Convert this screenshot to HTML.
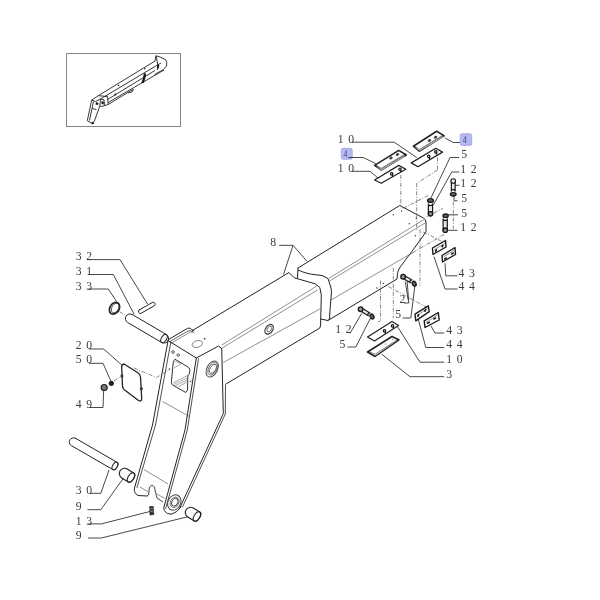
<!DOCTYPE html>
<html><head><meta charset="utf-8"><style>
html,body{margin:0;padding:0;background:#fff;width:600px;height:600px;overflow:hidden}
svg{display:block;will-change:transform}
.t text{font-family:"Liberation Serif",serif;font-size:11.7px;fill:#3c3c3c}
.k{fill:none;stroke:#222;stroke-width:1;stroke-linejoin:round;stroke-linecap:round}
.ld{fill:none;stroke:#333;stroke-width:0.9}
.th{fill:none;stroke:#444;stroke-width:0.6}
.ds{fill:none;stroke:#555;stroke-width:0.7;stroke-dasharray:4 1.5 1 1.5}
</style></head><body>
<svg width="600" height="600" viewBox="0 0 600 600">
<rect x="66.5" y="53.5" width="114" height="73" fill="none" stroke="#868686" stroke-width="1"/>
<g class="t"><text x="78.60" y="259.6" text-anchor="middle">3</text><text x="89.10" y="259.6" text-anchor="middle">2</text><text x="78.60" y="275" text-anchor="middle">3</text><text x="89.10" y="275" text-anchor="middle">1</text><text x="78.60" y="289.7" text-anchor="middle">3</text><text x="89.10" y="289.7" text-anchor="middle">3</text><text x="78.60" y="348.7" text-anchor="middle">2</text><text x="89.10" y="348.7" text-anchor="middle">0</text><text x="78.60" y="363.3" text-anchor="middle">5</text><text x="89.10" y="363.3" text-anchor="middle">0</text><text x="78.60" y="407.8" text-anchor="middle">4</text><text x="89.10" y="407.8" text-anchor="middle">9</text><text x="78.60" y="494" text-anchor="middle">3</text><text x="89.10" y="494" text-anchor="middle">0</text><text x="78.60" y="510" text-anchor="middle">9</text><text x="78.60" y="524.7" text-anchor="middle">1</text><text x="89.10" y="524.7" text-anchor="middle">3</text><text x="78.60" y="538.8" text-anchor="middle">9</text><text x="273.20" y="245.8" text-anchor="middle">8</text><text x="340.70" y="142.5" text-anchor="middle">1</text><text x="351.20" y="142.5" text-anchor="middle">0</text><text x="340.70" y="171.7" text-anchor="middle">1</text><text x="351.20" y="171.7" text-anchor="middle">0</text><text x="464.10" y="157.5" text-anchor="middle">5</text><text x="463.20" y="172.5" text-anchor="middle">1</text><text x="473.70" y="172.5" text-anchor="middle">2</text><text x="463.20" y="186.7" text-anchor="middle">1</text><text x="473.70" y="186.7" text-anchor="middle">2</text><text x="464.10" y="201.7" text-anchor="middle">5</text><text x="464.10" y="216.7" text-anchor="middle">5</text><text x="463.20" y="230.8" text-anchor="middle">1</text><text x="473.70" y="230.8" text-anchor="middle">2</text><text x="461.40" y="276.7" text-anchor="middle">4</text><text x="471.90" y="276.7" text-anchor="middle">3</text><text x="461.40" y="290" text-anchor="middle">4</text><text x="471.90" y="290" text-anchor="middle">4</text><text x="338.20" y="333.3" text-anchor="middle">1</text><text x="348.70" y="333.3" text-anchor="middle">2</text><text x="342.40" y="347.5" text-anchor="middle">5</text><text x="402.40" y="303.3" text-anchor="middle">2</text><text x="398.20" y="318.3" text-anchor="middle">5</text><text x="449.10" y="334.2" text-anchor="middle">4</text><text x="459.60" y="334.2" text-anchor="middle">3</text><text x="449.10" y="348.3" text-anchor="middle">4</text><text x="459.60" y="348.3" text-anchor="middle">4</text><text x="449.10" y="363.3" text-anchor="middle">1</text><text x="459.60" y="363.3" text-anchor="middle">0</text><text x="449.10" y="377.5" text-anchor="middle">3</text></g>
<!-- leaders left -->
<g fill="none" stroke="#333" stroke-width="0.9">
<polyline points="87,259.6 120,259.6 147.5,304"/>
<polyline points="88.3,274.5 113.3,274.5 134,314"/>
<polyline points="88,289 108.3,289 116.7,301.7"/>
<polyline points="89,349 103.7,349 121.7,365"/>
<polyline points="89,363.3 103,363.3 110.8,380.8"/>
<polyline points="89,407.5 103,407.5 103.7,390"/>
<polyline points="90,493.3 100.8,493.3 109,470"/>
<polyline points="87.5,509.7 100.8,509.7 123.3,478.3"/>
<polyline points="88,523.9 101.3,523.9 150.7,511.3"/>
<polyline points="88,538 101.3,538 188,516.7"/>
</g>
<!-- pin 32 -->
<g fill="none" stroke="#222" stroke-linejoin="round" stroke-linecap="round" stroke-width="1">
<path d="M139.3,309.9 L152.3,302.5 A1.9,1.9 0 0 1 154.2,305.8 L141.2,313.2 A1.9,1.9 0 0 1 139.3,309.9 Z"/>
</g>
<!-- ring 33 -->
<g fill="none" stroke="#222" stroke-linejoin="round" stroke-linecap="round" stroke-width="1">
<ellipse cx="114.5" cy="308.3" rx="4.6" ry="6.3" transform="rotate(32 114.5 308.3)" stroke-width="1.7"/>
<ellipse cx="115.3" cy="308" rx="3.4" ry="5.2" transform="rotate(32 115.3 308)" stroke-width="0.7"/>
</g>
<!-- pin 31 -->
<g fill="none" stroke="#222" stroke-linejoin="round" stroke-linecap="round" stroke-width="1">
<path d="M132.3,314.5 L166.3,334.5 A4.6,4.6 0 0 1 161.7,342.5 L127.7,322.5 A4.6,4.6 0 0 1 132.3,314.5 Z"/>
<ellipse cx="164" cy="338.5" rx="2.6" ry="4.6" transform="rotate(30 164 338.5)"/>
</g>
<!-- pin 30 -->
<g fill="none" stroke="#222" stroke-linejoin="round" stroke-linecap="round" stroke-width="1"><path d="M75.60,438.36 L117.10,462.36 A2.31,4.20 30.0 0 1 112.90,469.64 L71.40,445.64 A4.20,4.20 0 0 1 75.60,438.36 Z"/><ellipse cx="115.00" cy="466.00" rx="2.31" ry="4.20" transform="rotate(30.0 115.00 466.00)"/></g>
<!-- bushing 9 left -->
<g  stroke-width="1.1" fill="none" stroke="#222" stroke-linejoin="round" stroke-linecap="round"><path d="M127.23,469.07 L133.73,473.07 A2.86,5.20 31.6 0 1 128.27,481.93 L121.77,477.93 A5.20,5.20 0 0 1 127.23,469.07 Z"/><ellipse cx="131.00" cy="477.50" rx="2.86" ry="5.20" transform="rotate(31.6 131.00 477.50)"/></g>
<!-- bushing 9 right -->
<g  stroke-width="1.1" fill="none" stroke="#222" stroke-linejoin="round" stroke-linecap="round"><path d="M193.23,508.07 L199.73,512.07 A2.86,5.20 31.6 0 1 194.27,520.93 L187.77,516.93 A5.20,5.20 0 0 1 193.23,508.07 Z"/><ellipse cx="197.00" cy="516.50" rx="2.86" ry="5.20" transform="rotate(31.6 197.00 516.50)"/></g>
<!-- grease nipple 13 -->
<g fill="#333" stroke="#111" stroke-width="0.6">
<path d="M149.7,506.5 L153.3,506.5 L153.8,514.5 L150,515 Z"/>
</g>
<g stroke="#ddd" stroke-width="0.5"><line x1="150" y1="509" x2="153.5" y2="508.5"/><line x1="150.2" y1="511.5" x2="153.6" y2="511"/></g>
<!-- nut 50, washer 49 -->
<circle cx="111.3" cy="383.3" r="2.6" fill="#222"/>
<circle cx="104.2" cy="387.5" r="3" fill="#777" stroke="#222" stroke-width="1.2"/>
<!-- cover plate 20 -->
<g  stroke-width="1.3" fill="none" stroke="#222" stroke-linejoin="round" stroke-linecap="round">
<path d="M124,364 Q121.5,364.5 121.7,367 L122.5,386 Q122.8,389.5 126,391 L138.5,400.5 Q141.7,402 141.7,398.5 L140.5,377 Q140.2,374 137.5,372.5 Z"/>
<ellipse cx="121.8" cy="376" rx="1" ry="1.6" stroke-width="0.8"/>
<ellipse cx="141.3" cy="388.7" rx="1" ry="1.6" stroke-width="0.8"/>
</g>
<g fill="none" stroke="#555" stroke-dasharray="4 1.5 1 1.5" stroke-width="0.7"><polyline points="114,381 121,376.5"/><line x1="119.5" y1="311.8" x2="125.5" y2="315"/></g>
<!-- OUTER BOOM -->
<g fill="none" stroke="#222" stroke-linejoin="round" stroke-linecap="round" stroke-width="1">
<!-- top edge -->
<polyline points="192.5,330.5 289,272.5 294.2,277.8 315.2,283.8 319.8,287.5 321.3,295 320.6,325 319.8,328 226,384"/>
</g>
<g fill="none" stroke="#444" stroke-width="0.6">
<line x1="221.7" y1="345" x2="316.8" y2="286"/>
<line x1="221.7" y1="348.3" x2="317.5" y2="290"/>
<line x1="223.3" y1="362.5" x2="320.5" y2="308.6"/>
<ellipse cx="269.1" cy="329.3" rx="3.5" ry="5.3" transform="rotate(35 269.1 329.3)" stroke-width="1.3"/>
<ellipse cx="269.4" cy="329" rx="1.9" ry="3.2" transform="rotate(35 269.4 329)" stroke-width="0.7"/>
</g>
<!-- ARM -->
<g fill="none" stroke="#222" stroke-linejoin="round" stroke-linecap="round" stroke-width="1">
<!-- top lug -->
<path d="M167.9,339.9 L187.5,328.3 Q190,327.5 191.7,329.5 L193.8,330.8"/>
<polyline points="169.5,341.8 189,330.5 192.5,331.5" stroke-width="0.7"/>
<polyline points="171.5,343 190.5,332 194,332.5" stroke-width="0.5"/>
<!-- front plate outer left edge -->
<path d="M168,341 L152.5,425 L134.5,488 Q133.5,493 138,495.5 L147,496"/>
<polyline points="170.8,342.3 155.5,425 137,487.5" stroke-width="0.8"/>
<!-- front plate top edge -->
<polyline points="168.3,340.7 196.3,358 218.5,346 221.7,348.5"/>
<!-- front plate right edge -->
<path d="M196.3,358 L185,430 L163.7,508 Q164.5,513.5 170,514 L172,514 Q177,512.5 181,507"/>
<polyline points="198.5,358.8 187.3,430 165.7,508.5" stroke-width="0.8"/>
<!-- side plate right edge -->
<polyline points="221.7,348.5 223.3,413.5 180,507.5"/>
<polyline points="225.5,385 225.3,414 182.5,507" stroke-width="0.8"/>
</g>
<g fill="none" stroke="#444" stroke-width="0.6">
<line x1="162.5" y1="401.5" x2="189.5" y2="416.5"/>
<line x1="144" y1="469.5" x2="168" y2="484"/>
<!-- window -->
<path d="M175,359.2 L188.75,367.5 L190,370 L189.2,374.2 L187.9,375.8 L187.5,390 L185.8,392.5 L172.5,385 L171.25,382.9 L173.3,361.7 Z" stroke-width="1" stroke="#333"/>
<path d="M174.8,361.5 L181.7,363.3 L174.2,368 M172.8,383 L188,375.3 M173.8,384.5 L188,377.5 M175,386 L188,379.5 M178.5,387 L187.7,381.5" stroke-width="0.5" stroke="#555"/>
<ellipse cx="197.3" cy="344" rx="5.3" ry="3.3" transform="rotate(-15 197.3 344)"/>
<circle cx="173" cy="352" r="1.3" stroke-width="0.9"/>
<circle cx="178.25" cy="355" r="1.3" stroke-width="0.9"/>
<circle cx="204.7" cy="338.7" r="0.6" fill="#333"/>
<circle cx="190.5" cy="381.5" r="0.5" fill="#333"/>
<circle cx="169.5" cy="369" r="0.5" fill="#333"/>
<!-- boss -->
<ellipse cx="212.2" cy="369" rx="5.3" ry="8.6" transform="rotate(28 212.2 369)" stroke-width="1"/>
<ellipse cx="212.6" cy="368.8" rx="4" ry="6.8" transform="rotate(28 212.6 368.8)" stroke-width="0.7"/>
<ellipse cx="212.9" cy="368.8" rx="2.8" ry="5" transform="rotate(28 212.9 368.8)" stroke-width="0.8"/>
<!-- pivot -->
<ellipse cx="174.3" cy="502.5" rx="6.3" ry="8" transform="rotate(28 174.3 502.5)" stroke-width="1"/>
<ellipse cx="174.6" cy="502.3" rx="4.2" ry="5.4" transform="rotate(28 174.6 502.3)" stroke-width="0.7"/><ellipse cx="174.8" cy="502.2" rx="2.9" ry="3.9" transform="rotate(28 174.8 502.2)" stroke-width="0.9"/>
<!-- slot at bottom -->
<path d="M147,496 L148.5,495 L149.5,487 Q151,485 153,485.5 Q155,486.5 155,490 L157,498 L163,502" stroke-width="1"/>
<path d="M140,487 L148.5,492 M157,494 L165,498.5" stroke-width="0.6"/>
</g>
<g fill="none" stroke="#555" stroke-dasharray="4 1.5 1 1.5" stroke-width="0.7"><polyline points="134,368 156.5,377.5 170,369.3"/></g>
<!-- highlight boxes -->
<rect x="341.3" y="148.3" width="10.9" height="11" rx="1.6" fill="#b6b9ef" stroke="#9da2e4" stroke-width="0.8"/>
<rect x="460.2" y="133.8" width="11.5" height="11.6" rx="1.6" fill="#b6b9ef" stroke="#9da2e4" stroke-width="0.8"/>
<g style="font-family:'Liberation Serif',serif;font-size:10.5px;fill:#3a4272">
<text x="345.4" y="157.3" text-anchor="middle" textLength="3.8" lengthAdjust="spacingAndGlyphs">4</text>
<text x="464.6" y="142.8" text-anchor="middle" textLength="3.8" lengthAdjust="spacingAndGlyphs">4</text>
</g>
<!-- INNER BOOM -->
<g fill="none" stroke="#222" stroke-linejoin="round" stroke-linecap="round" stroke-width="1">
<!-- leader 8 -->
</g>
<g fill="none" stroke="#333" stroke-width="0.9">
<polyline points="279.2,245.3 293,245.3 283.5,274.5"/>
<polyline points="293,245.3 307,261.3"/>
</g>
<g fill="none" stroke="#222" stroke-linejoin="round" stroke-linecap="round" stroke-width="1">
<!-- top edge -->
<path d="M298,268 L399.75,205.5 L423.5,218 Q426,219.5 426,222 L426,231.5 L424,234.8 L411.7,251.7 L400.5,266.5 Q398,270 397.5,273.5 L397,279 L328,320.5"/>
<!-- collar left edge -->
<polyline points="298,268 297.5,278"/>
<!-- collar front face -->
<path d="M298.5,270.3 C304,272.5 310,274.5 316,274.8 L322,275.5 L328,278.5 L331,288 L331.5,292 L330,310 L329.5,319 L328,320.5 L320.5,319"/>
</g>
<g fill="none" stroke="#444" stroke-width="0.6">
<line x1="329" y1="278.3" x2="424" y2="219.5"/>
<line x1="329.5" y1="281" x2="425.4" y2="222.8"/>
<line x1="331" y1="300" x2="413" y2="252.5"/>
</g>
<g fill="none" stroke="#555" stroke-dasharray="4 1.5 1 1.5" stroke-width="0.7">
<line x1="413" y1="252.5" x2="445" y2="234"/>
</g>
<g fill="#333">
<circle cx="393.3" cy="214.7" r="0.7"/><circle cx="401.6" cy="211" r="0.7"/><circle cx="409.3" cy="223.8" r="0.7"/>
<circle cx="416.3" cy="218.3" r="0.7"/><circle cx="415.3" cy="235.8" r="0.7"/><circle cx="383.3" cy="283.4" r="0.7"/>
<circle cx="376.8" cy="288" r="0.7"/><circle cx="380.5" cy="297" r="0.6"/>
</g>
<!-- dashed construction lines -->
<g fill="none" stroke="#555" stroke-dasharray="4 1.5 1 1.5" stroke-width="0.7">
<line x1="400.8" y1="175" x2="400.8" y2="205"/>
<line x1="416.7" y1="183.3" x2="416.7" y2="230"/>
<line x1="437.5" y1="157.5" x2="437.5" y2="170"/>
<line x1="437.5" y1="170" x2="416.7" y2="183.3"/>
<line x1="420" y1="229.3" x2="420" y2="286"/>
<line x1="393.3" y1="267.8" x2="393.3" y2="318"/>
<line x1="380.5" y1="280.7" x2="380.5" y2="321"/>
<line x1="453.3" y1="201.7" x2="453.3" y2="229"/>
<line x1="403.3" y1="208.3" x2="428" y2="195.5"/>
<line x1="426.7" y1="216.7" x2="443" y2="208.5"/>
<line x1="423.3" y1="232" x2="443" y2="242"/>
<line x1="388.3" y1="286.5" x2="428" y2="308"/>
<line x1="380.5" y1="321" x2="378" y2="322"/>
</g>
<!-- TOP PLATES -->
<g fill="none" stroke="#333" stroke-width="0.9">
<polyline points="351.7,142.2 394.2,142.2 416.7,157.5"/>
<polyline points="348.3,157.5 363.3,157.5 375.8,163.7"/>
<polyline points="351.7,171.3 370,171.3 378.3,178.3"/>
<polyline points="460,142.5 453.3,142.5 445,138"/>
<polyline points="459.2,157.5 450,157.5 430,200"/>
<polyline points="459.2,172 451.7,172 433.3,205"/>
<polyline points="454,195.8 454,200.8 457.5,200.8"/>
<polyline points="455,185.3 459.5,185.3"/>
<polyline points="458,214.8 446.7,214.8"/>
<polyline points="457.5,230.3 447.5,230.3"/>
<polyline points="457.5,275.8 445.8,275.8 445,263.3"/>
<polyline points="457.5,289 445,289 434,256.7"/>
<polyline points="350,333.3 361.7,313.3"/>
<polyline points="347.5,347 355.8,347 370.8,317.5"/>
<polyline points="404,303 408.8,303 407.2,281.5"/>
<polyline points="408.3,300.5 405.2,281.5"/>
<polyline points="402.5,318 410.8,318 415,285"/>
<polyline points="444.2,333 435,333 430.8,325.8"/>
<polyline points="444.2,347.5 425.8,347.5 418.3,319.2"/>
<polyline points="444.2,362.2 420,362.2 397.5,326.7"/>
<polyline points="444.2,376.7 410,376.7 381.7,354.2"/>
</g>
<!-- THUMBNAIL -->
<g fill="none" stroke="#222" stroke-width="0.9" stroke-linejoin="round">
<polyline points="98.3,95.7 155,61 156,55.8 160,57 165.5,59.5 166.8,62.5 166.5,66 163.5,69.5 154.5,74.5"/>
<polyline points="100.5,99 156.5,65.5 161,63"/>
<polyline points="107.5,99.5 155,70.5"/>
<polyline points="108.2,102.5 164,70"/>
<polyline points="108.2,104.5 118,98.5"/>
<polyline points="118,98.5 127,93 133.3,89.3 132.3,91.8 128,93"/>
<polyline points="156,55.8 157.5,63 157.5,70"/>
<!-- head block -->
<polyline points="98.3,95.7 107.5,96.5 108.2,104.5 102,106.4 99.8,106"/>
<polyline points="100.5,99 104,99.8 104.5,105.5"/>
<!-- arm -->
<polyline points="98.3,95.7 91.7,100.1 87.3,120.7 92,123.6 94.3,121.4 99.8,106 100.5,99"/>
<polyline points="93.5,101.5 89.5,120.5"/>
<polyline points="91.7,100.1 95.5,101.5 100.5,99"/>
<line x1="92" y1="108.5" x2="96.5" y2="109.5"/>
</g>
<g fill="#1a1a1a">
<path d="M143.8,73.2 L146.2,73.6 L145.3,78.5 L143.8,83 L141.2,83.3 L143,78 Z"/>
<circle cx="118.6" cy="85.5" r="0.8"/><circle cx="115.3" cy="94.5" r="1"/><circle cx="144.8" cy="68.8" r="0.8"/>
<path d="M157.5,64.5 L159.3,65 L158.8,68.5 L157,68 Z"/>
<circle cx="92.8" cy="123" r="1.2"/>
<path d="M101.5,101 L104,102 L103.5,104.5 L101.5,104 Z"/>
<path d="M96,102 L98.5,103 L98,105 L95.5,104.5 Z"/>
</g>
<g>
<path d="M432.60,213.80 L432.60,203.50 A2.10,2.10 0 0 1 428.40,203.50 L428.40,213.80" fill="#e8e8e8" stroke="#1a1a1a" stroke-width="1.2"/>
<circle cx="430.50" cy="213.80" r="2.2" fill="#999" stroke="#1a1a1a" stroke-width="1.4"/>
<ellipse cx="430.5" cy="200.5" rx="2.9" ry="1.9" transform="rotate(0 430.5 200.5)" fill="#666" stroke="#1a1a1a" stroke-width="1.4"/>
<path d="M451.35,181.00 L451.35,191.50 A1.90,1.90 0 0 1 455.15,191.50 L455.15,181.00" fill="#e8e8e8" stroke="#1a1a1a" stroke-width="1.2"/>
<circle cx="453.25" cy="181.00" r="2.3" fill="#eee" stroke="#1a1a1a" stroke-width="1.1"/>
<ellipse cx="453.25" cy="194.3" rx="2.8" ry="1.7" transform="rotate(0 453.25 194.3)" fill="#666" stroke="#1a1a1a" stroke-width="1.4"/>
<path d="M447.30,230.20 L447.30,218.50 A2.10,2.10 0 0 1 443.10,218.50 L443.10,230.20" fill="#e8e8e8" stroke="#1a1a1a" stroke-width="1.2"/>
<circle cx="445.20" cy="230.20" r="2.2" fill="#999" stroke="#1a1a1a" stroke-width="1.4"/>
<ellipse cx="445.6" cy="215.8" rx="2.6" ry="1.8" transform="rotate(0 445.6 215.8)" fill="#666" stroke="#1a1a1a" stroke-width="1.4"/>
<path d="M402.29,278.08 L410.69,282.98 A1.60,1.60 0 0 1 412.31,280.22 L403.91,275.32" fill="#e8e8e8" stroke="#1a1a1a" stroke-width="1.2"/>
<circle cx="403.10" cy="276.70" r="2.3" fill="#999" stroke="#1a1a1a" stroke-width="1.4"/>
<ellipse cx="414.2" cy="283.7" rx="1.8" ry="2.5" transform="rotate(-25 414.2 283.7)" fill="#666" stroke="#1a1a1a" stroke-width="1.4"/>
<path d="M359.77,310.57 L368.67,315.97 A1.60,1.60 0 0 1 370.33,313.23 L361.43,307.83" fill="#e8e8e8" stroke="#1a1a1a" stroke-width="1.2"/>
<circle cx="360.60" cy="309.20" r="2.3" fill="#999" stroke="#1a1a1a" stroke-width="1.4"/>
<ellipse cx="372" cy="316.5" rx="1.8" ry="2.5" transform="rotate(-25 372 316.5)" fill="#666" stroke="#1a1a1a" stroke-width="1.4"/>
</g>
<g  stroke-width="1.3" fill="none" stroke="#222" stroke-linejoin="round" stroke-linecap="round">
<polygon points="374.60,165.40 398.75,150.40 406.25,155.00 381.25,170.00"  stroke-width="1.5" fill="none" stroke="#222" stroke-linejoin="round" stroke-linecap="round" />
<polygon points="376,166.6 381.5,169.2 405,155.2 404.2,156.8 381.8,170.3" fill="#c4c4c4" stroke="none"/>
<polyline points="376,165.2 381.4,168.3 405.5,153.8" stroke-width="0.6"/>
<polygon points="374.60,180.00 398.75,165.40 405.80,169.20 381.25,183.30"  stroke-width="1.25" fill="none" stroke="#222" stroke-linejoin="round" stroke-linecap="round" />
<polygon points="413.30,146.25 436.70,131.25 444.20,135.80 419.20,151.25"  stroke-width="1.5" fill="none" stroke="#222" stroke-linejoin="round" stroke-linecap="round" />
<polygon points="414.5,147.3 419.3,150 443.5,136 442.8,137.4 419.5,151 " fill="#c4c4c4" stroke="none"/>
<polyline points="414.8,146 419.3,149.6 443.5,134.8" stroke-width="0.6"/>
<polygon points="411.25,162.90 435.80,148.30 442.50,152.10 417.90,166.70"  stroke-width="1.25" fill="none" stroke="#222" stroke-linejoin="round" stroke-linecap="round" />
<polygon points="367.50,337.00 392.00,321.50 398.50,325.50 374.50,341.00"  stroke-width="1.25" fill="none" stroke="#222" stroke-linejoin="round" stroke-linecap="round" />
<polygon points="367.50,352.00 392.00,336.50 399.00,340.00 375.00,356.50"  stroke-width="1.5" fill="none" stroke="#222" stroke-linejoin="round" stroke-linecap="round" />
<polyline points="369,351.6 375,354.3 398.3,339.2" stroke-width="0.6"/>
</g>
<g fill="#555" stroke="#222" stroke-width="0.8">
<ellipse cx="391" cy="158" rx="1.4" ry="0.9" transform="rotate(-30 391 158)"/>
<ellipse cx="397.5" cy="154.5" rx="1.4" ry="0.9" transform="rotate(-30 397.5 154.5)"/>
<ellipse cx="429.5" cy="140.5" rx="1.4" ry="0.9" transform="rotate(-30 429.5 140.5)"/>
<ellipse cx="435.5" cy="137.2" rx="1.4" ry="0.9" transform="rotate(-30 435.5 137.2)"/>
</g>
<g fill="none" stroke="#111" stroke-width="1.2">
<circle cx="391.7" cy="173.9" r="1.2"/><line x1="392.59999999999997" y1="174.5" x2="392.3" y2="176.5"/>
<circle cx="400" cy="169.20000000000002" r="1.2"/><line x1="400.9" y1="169.8" x2="400.6" y2="171.8"/>
<circle cx="428.75" cy="156.4" r="1.2"/><line x1="429.65" y1="157" x2="429.35" y2="159"/>
<circle cx="435.8" cy="151.9" r="1.2"/><line x1="436.7" y1="152.5" x2="436.40000000000003" y2="154.5"/>
<circle cx="384.5" cy="330.9" r="1.2"/><line x1="385.4" y1="331.5" x2="385.1" y2="333.5"/>
<circle cx="392.5" cy="325.9" r="1.2"/><line x1="393.4" y1="326.5" x2="393.1" y2="328.5"/>
</g>
<g fill="#888"><circle cx="385.5" cy="344" r="0.7"/><circle cx="392.5" cy="339.5" r="0.7"/></g>
<g fill="none" stroke="#1a1a1a" stroke-width="1.4" stroke-linejoin="round">
<polygon points="432.50,248.00 445.50,240.50 446.00,247.00 433.00,254.50" class="" fill="none"/>
<polygon points="442.00,255.50 455.00,247.50 455.50,254.50 442.50,262.00" class="" fill="none"/>
<polygon points="415.00,314.20 428.30,305.80 429.20,311.70 415.80,320.80" class="" fill="none"/>
<polygon points="424.20,320.80 438.30,312.50 439.20,320.00 425.00,327.50" class="" fill="none"/>
</g>
<g fill="none" stroke="#444" stroke-width="0.6">
<polyline points="434.5,249.5 445,243.5"/><polyline points="417,315.5 427.5,308.5"/>
<polyline points="443.5,257 454.5,250"/><polyline points="426,322.5 437.5,315"/>
</g>
<g fill="#111">
<ellipse cx="436" cy="250.5" rx="1.6" ry="0.9" transform="rotate(-60 436 250.5)"/>
<ellipse cx="442.5" cy="246" rx="1.6" ry="0.9" transform="rotate(-60 442.5 246)"/>
<ellipse cx="418.3" cy="315.5" rx="1.6" ry="0.9" transform="rotate(-60 418.3 315.5)"/>
<ellipse cx="425.3" cy="310.5" rx="1.6" ry="0.9" transform="rotate(-60 425.3 310.5)"/>
<ellipse cx="445.5" cy="258.5" rx="1.8" ry="0.9" transform="rotate(-30 445.5 258.5)"/>
<ellipse cx="452.5" cy="253.5" rx="1.8" ry="0.9" transform="rotate(-30 452.5 253.5)"/>
<ellipse cx="428.5" cy="322.8" rx="1.8" ry="0.9" transform="rotate(-30 428.5 322.8)"/>
<ellipse cx="434.8" cy="318.5" rx="1.8" ry="0.9" transform="rotate(-30 434.8 318.5)"/>
</g>
</svg></body></html>
